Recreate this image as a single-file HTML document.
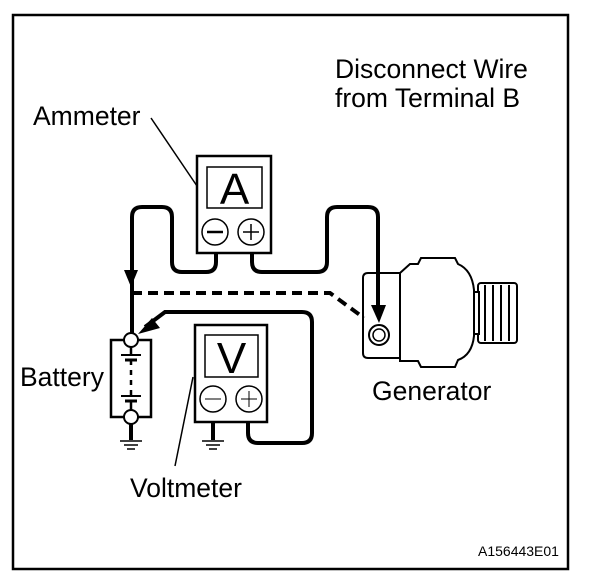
<!DOCTYPE html>
<html><head><meta charset="utf-8"><style>
html,body{margin:0;padding:0;background:#fff;}
svg{display:block;}
text{font-family:"Liberation Sans",Arial,sans-serif;fill:#000;}
</style></head><body>
<svg width="608" height="582" viewBox="0 0 608 582" xmlns="http://www.w3.org/2000/svg">
<rect x="13" y="15" width="555" height="554" fill="none" stroke="#000" stroke-width="2.5"/>
<text x="335" y="78" font-size="26.5">Disconnect Wire</text>
<text x="335" y="107" font-size="26.5">from Terminal B</text>
<text x="33" y="125" font-size="26.5">Ammeter</text>
<text x="20" y="386" font-size="26.5">Battery</text>
<text x="372" y="400" font-size="26.5">Generator</text>
<text x="130" y="497" font-size="26.5">Voltmeter</text>
<text x="478" y="556" font-size="14">A156443E01</text>
<g fill="#fff" stroke="#000" stroke-width="2">
<rect x="478" y="283" width="39" height="60" rx="3"/>
<line x1="485" y1="285" x2="485" y2="341"/><line x1="493" y1="285" x2="493" y2="341"/><line x1="501" y1="285" x2="501" y2="341"/><line x1="509" y1="285" x2="509" y2="341"/>
<rect x="473" y="292" width="6" height="42"/>
<path d="M400 273 L410 264 H418 L421 258 H455 L458 264 Q472 270 474 290 V336 Q472 355 458 360 L455 367 H421 L418 361 H400 Z"/>
<path d="M400 273 H368 Q363 273 363 278 V353 Q363 358 368 358 H400 Z"/>
</g>
<circle cx="379" cy="335" r="10" fill="#fff" stroke="#000" stroke-width="2"/>
<circle cx="379" cy="335" r="6" fill="none" stroke="#000" stroke-width="1.5"/>
<g fill="none" stroke="#000">
<line x1="151" y1="118" x2="197" y2="186" stroke-width="1.5"/>
<line x1="175" y1="466" x2="193" y2="377" stroke-width="1.5"/>
<path d="M216 253 V262 Q216 272 206 272 H182 Q172 272 172 262 V217 Q172 207 162 207 H142 Q132 207 132 217 V340" stroke-width="4"/>
<path d="M252 253 V262 Q252 272 262 272 H317 Q327 272 327 262 V217 Q327 207 337 207 H368 Q378 207 378 217 V312" stroke-width="4"/>
<path d="M132 293 H330 L364 318" stroke-width="4" stroke-dasharray="10,6"/>
<path d="M248 422 V433 Q248 443 258 443 H302 Q312 443 312 433 V322 Q312 312 302 312 H165 L145 327" stroke-width="4"/>
<line x1="213" y1="422" x2="213" y2="440" stroke-width="4"/>
<line x1="131" y1="417" x2="131" y2="440" stroke-width="4"/>
</g>
<polygon points="124,270 138,270 131,287" fill="#000"/>
<polygon points="371,305 386,305 379,323" fill="#000"/>
<polygon points="138,334 152,318 160,328" fill="#000"/>
<g stroke="#000" stroke-width="1.5">
<line x1="120" y1="441" x2="142" y2="441"/><line x1="124" y1="445" x2="138" y2="445"/><line x1="127" y1="449" x2="135" y2="449"/>
<line x1="202" y1="441" x2="224" y2="441"/><line x1="206" y1="445" x2="220" y2="445"/><line x1="209" y1="449" x2="217" y2="449"/>
</g>
<rect x="197" y="156" width="74" height="97" fill="#fff" stroke="#000" stroke-width="2.5"/>
<rect x="207" y="167" width="55" height="41" fill="none" stroke="#000" stroke-width="1.5"/>
<text x="234.5" y="204" font-size="44" text-anchor="middle">A</text>
<circle cx="215" cy="232" r="13" fill="none" stroke="#000" stroke-width="1.5"/>
<circle cx="251" cy="232" r="13" fill="none" stroke="#000" stroke-width="1.5"/>
<line x1="207" y1="232" x2="223" y2="232" stroke="#000" stroke-width="2.5"/>
<line x1="243" y1="232" x2="259" y2="232" stroke="#000" stroke-width="1.5"/>
<line x1="251" y1="224" x2="251" y2="240" stroke="#000" stroke-width="1.5"/>
<rect x="195" y="325" width="72" height="97" fill="#fff" stroke="#000" stroke-width="2.5"/>
<rect x="205" y="335" width="53" height="42" fill="none" stroke="#000" stroke-width="1.5"/>
<text x="231.5" y="373" font-size="44" text-anchor="middle">V</text>
<circle cx="213" cy="399" r="13" fill="none" stroke="#000" stroke-width="1.5"/>
<circle cx="249" cy="399" r="13" fill="none" stroke="#000" stroke-width="1.5"/>
<line x1="205" y1="399" x2="221" y2="399" stroke="#000" stroke-width="1"/>
<line x1="241" y1="399" x2="257" y2="399" stroke="#000" stroke-width="1"/>
<line x1="249" y1="391" x2="249" y2="407" stroke="#000" stroke-width="1"/>
<rect x="111" y="340" width="40" height="77" fill="#fff" stroke="#000" stroke-width="2.5"/>
<g stroke="#000">
<line x1="131" y1="340" x2="131" y2="355" stroke-width="2.5"/>
<line x1="121" y1="355" x2="141" y2="355" stroke-width="2"/>
<line x1="125" y1="360" x2="137" y2="360" stroke-width="3"/>
<line x1="131" y1="360" x2="131" y2="398" stroke-width="2.5" stroke-dasharray="5,5"/>
<line x1="121" y1="396" x2="141" y2="396" stroke-width="2"/>
<line x1="125" y1="401" x2="137" y2="401" stroke-width="3"/>
<line x1="131" y1="401" x2="131" y2="417" stroke-width="2.5"/>
</g>
<circle cx="131" cy="340" r="7" fill="#fff" stroke="#000" stroke-width="2"/>
<circle cx="131" cy="417" r="7" fill="#fff" stroke="#000" stroke-width="2"/>
</svg>
</body></html>
